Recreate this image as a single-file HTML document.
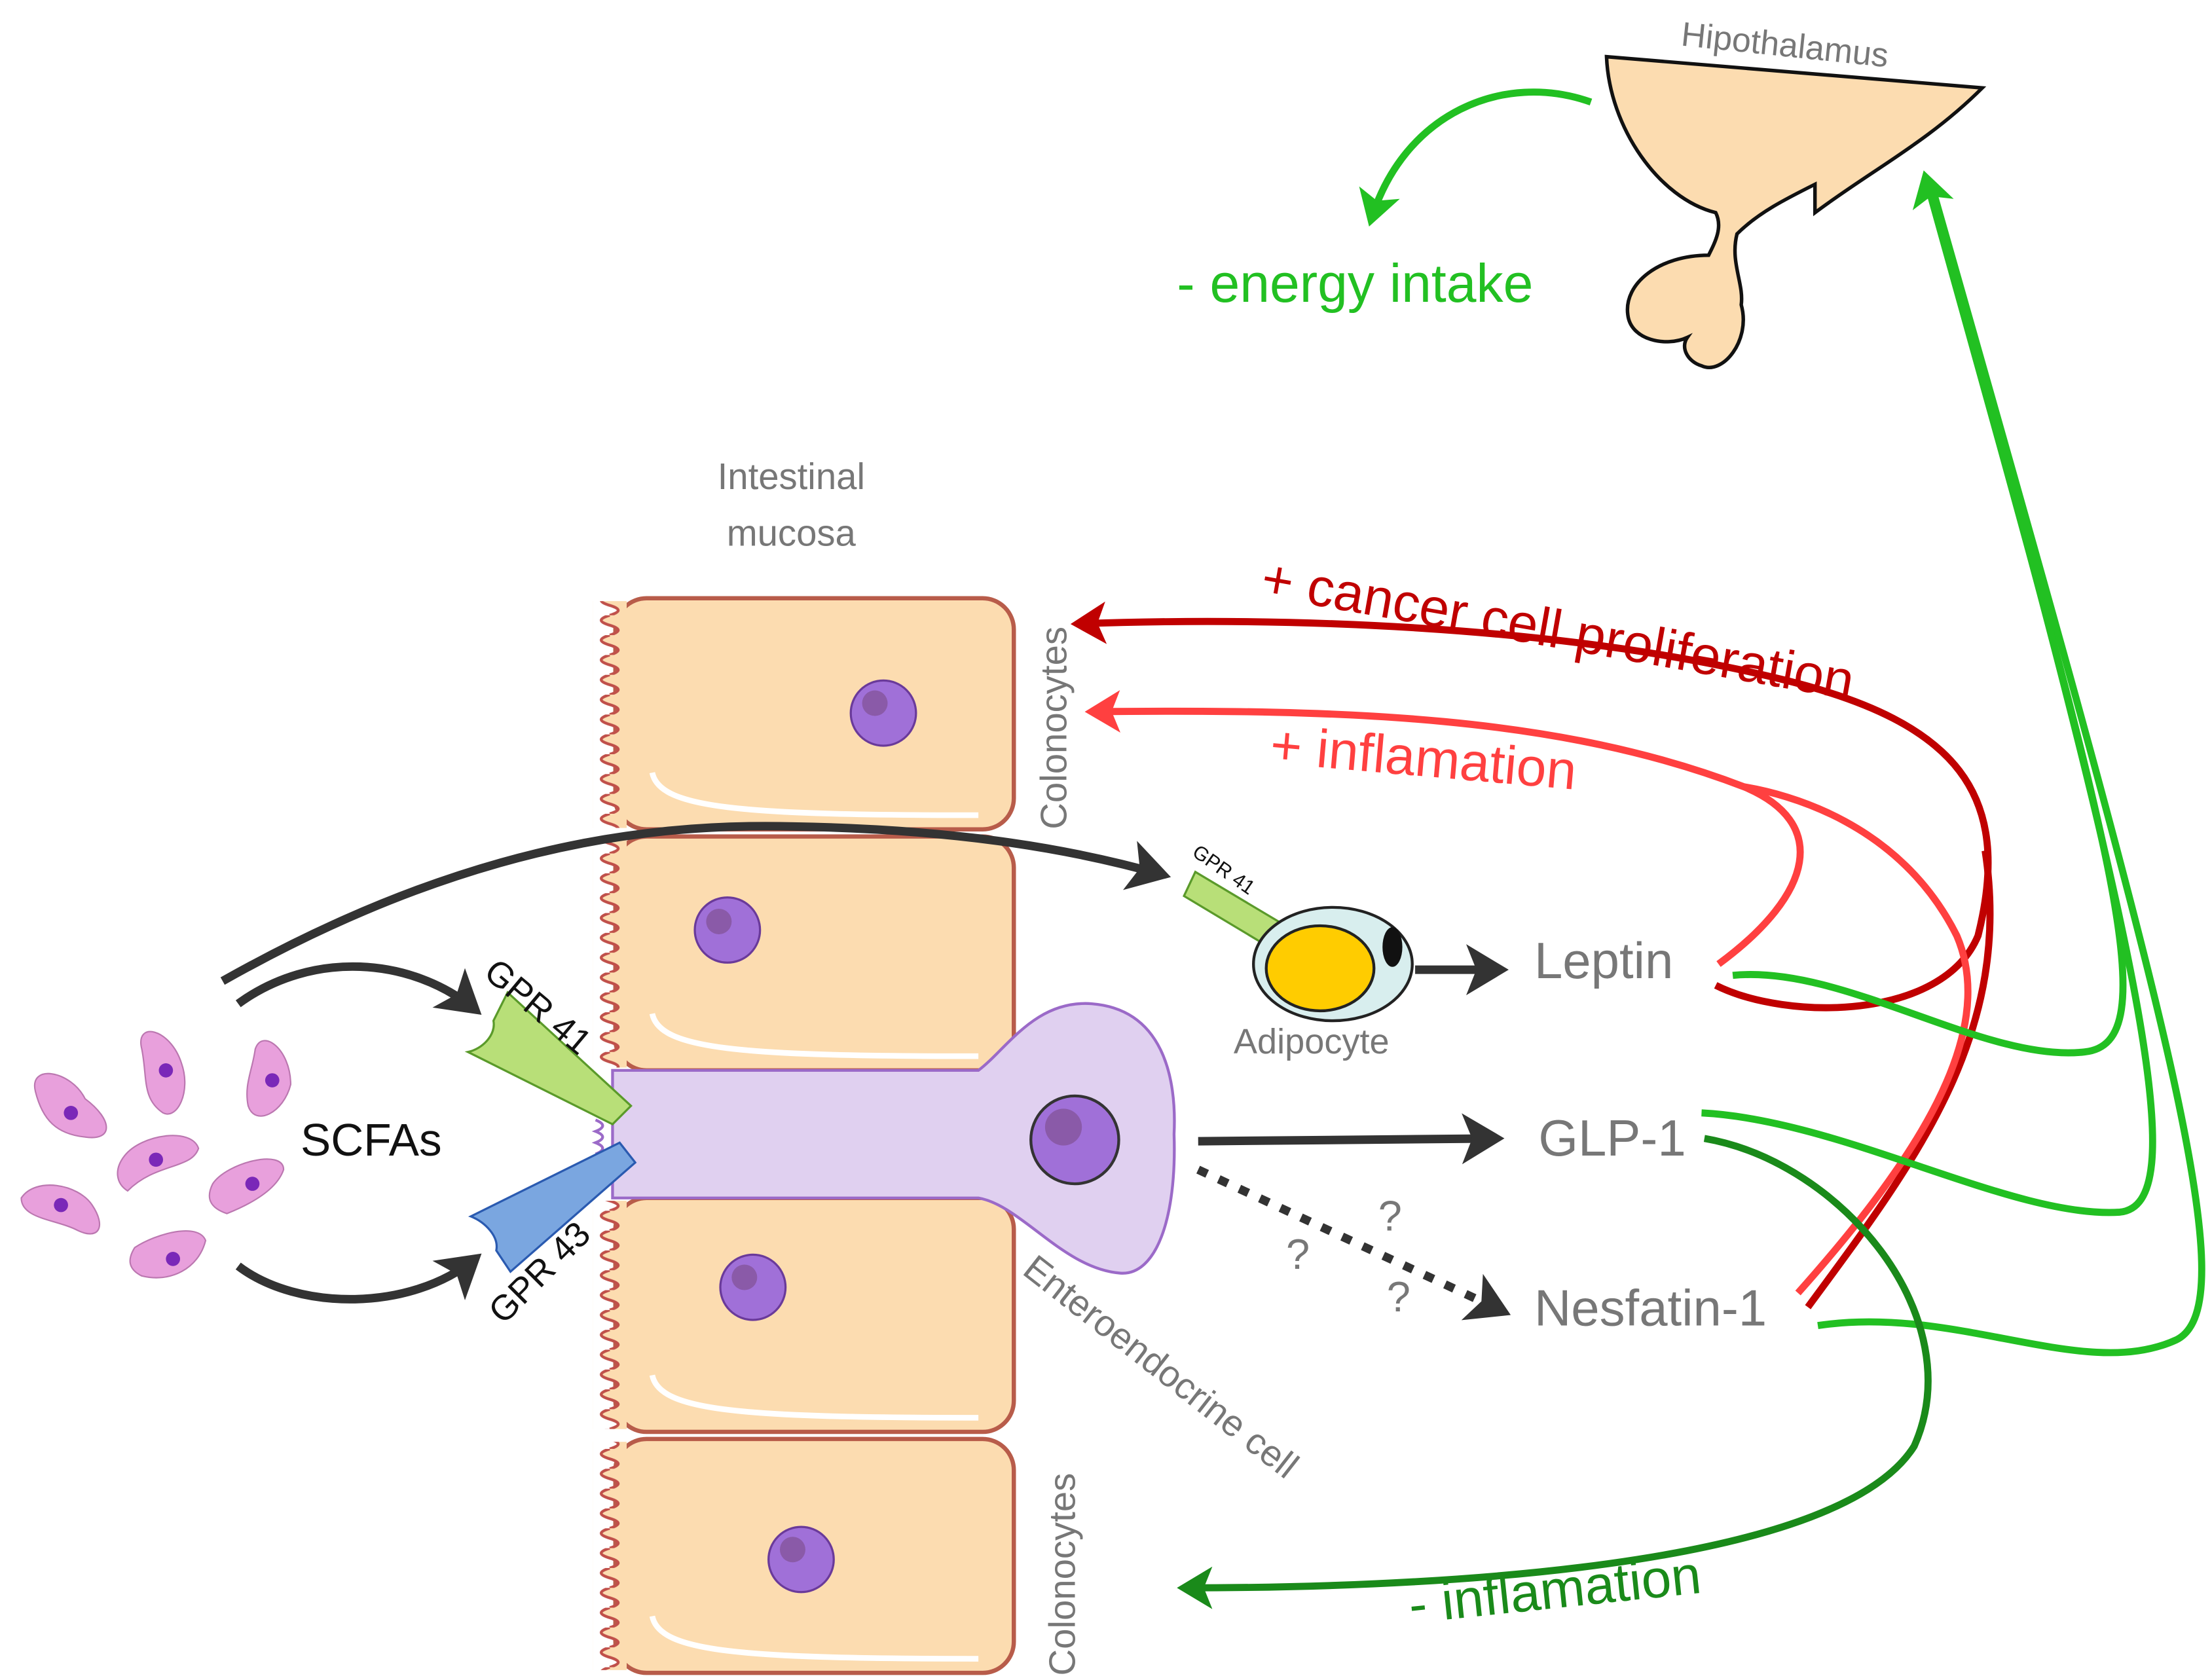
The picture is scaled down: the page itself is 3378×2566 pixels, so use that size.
<!DOCTYPE html>
<html><head><meta charset="utf-8"><style>
html,body{margin:0;padding:0;background:#fff}
svg{display:block}
text{font-family:"Liberation Sans","DejaVu Sans",sans-serif}
</style></head><body>
<svg width="3378" height="2566" viewBox="0 0 1560 1185" preserveAspectRatio="none" xmlns="http://www.w3.org/2000/svg">
<defs>
<pattern id="wave" x="418" y="0" width="24" height="14" patternUnits="userSpaceOnUse">
<path d="M12,0 Q0,3.5 12,7 Q24,10.5 12,14 L24,14 L24,0 Z" fill="#fcdcb0"/>
<path d="M12,0 Q0,3.5 12,7 Q24,10.5 12,14" fill="none" stroke="#c0504a" stroke-width="2"/>
</pattern>
<marker id="ab" markerWidth="6" markerHeight="6" refX="4" refY="3" orient="auto" markerUnits="strokeWidth"><path d="M0,0 L5,3 L0,6 L1.2,3 Z" fill="#333"/></marker>
<marker id="ag" markerWidth="6" markerHeight="6" refX="4" refY="3" orient="auto" markerUnits="strokeWidth"><path d="M0,0 L5,3 L0,6 L1.2,3 Z" fill="#22c022"/></marker>
<marker id="adg" markerWidth="6" markerHeight="6" refX="4" refY="3" orient="auto" markerUnits="strokeWidth"><path d="M0,0 L5,3 L0,6 L1.2,3 Z" fill="#1a8a1a"/></marker>
<marker id="ar" markerWidth="6" markerHeight="6" refX="4" refY="3" orient="auto" markerUnits="strokeWidth"><path d="M0,0 L5,3 L0,6 L1.2,3 Z" fill="#c00000"/></marker>
<marker id="ar2" markerWidth="6" markerHeight="6" refX="4" refY="3" orient="auto" markerUnits="strokeWidth"><path d="M0,0 L5,3 L0,6 L1.2,3 Z" fill="#ff4040"/></marker>
</defs>

<!-- Hypothalamus -->
<path d="M1133,40 L1398,62 C1360,100 1320,120 1280,150 L1280,130 C1260,140 1240,150 1225,165 C1220,185 1230,200 1228,215 C1235,240 1215,265 1200,258 C1190,255 1185,245 1190,238 C1175,245 1150,240 1148,222 C1145,200 1170,180 1205,180 C1210,170 1215,160 1210,150 C1170,140 1135,90 1133,40 Z" fill="#fcdcb0" stroke="#111" stroke-width="2.5"/>
<text x="1185" y="32" font-size="24" fill="#777" transform="rotate(6 1185 32)">Hipothalamus</text>
<path d="M1122,72 C1060,50 990,80 967,155" fill="none" stroke="#22c022" stroke-width="5" marker-end="url(#ag)"/>
<text x="830" y="213" font-size="38" fill="#22c022">- energy intake</text>

<text x="558" y="345" font-size="26" fill="#777" text-anchor="middle">Intestinal</text>
<text x="558" y="385" font-size="26" fill="#777" text-anchor="middle">mucosa</text>

<!-- Colonocytes -->
<g stroke="#b85c4a" stroke-width="3" fill="#fcdcb0">
<rect x="434" y="422" width="281" height="163" rx="22"/>
<rect x="434" y="590" width="281" height="165" rx="22"/>
<rect x="434" y="845" width="281" height="165" rx="22"/>
<rect x="434" y="1015" width="281" height="165" rx="22"/>
</g>
<g fill="none" stroke="#fff" stroke-width="4">
<path d="M460,545 C465,570 520,575 690,575"/><path d="M460,715 C465,740 520,745 690,745"/>
<path d="M460,970 C465,995 520,1000 690,1000"/><path d="M460,1140 C465,1165 520,1170 690,1170"/>
</g>
<rect x="418" y="424" width="24" height="160" fill="url(#wave)"/>
<rect x="418" y="592" width="24" height="161" fill="url(#wave)"/>
<rect x="418" y="847" width="24" height="161" fill="url(#wave)"/>
<rect x="418" y="1017" width="24" height="161" fill="url(#wave)"/>
<g fill="#a070d8" stroke="#6a3a9a" stroke-width="1.5">
<circle cx="623" cy="503" r="23"/><circle cx="513" cy="656" r="23"/>
<circle cx="531" cy="908" r="23"/><circle cx="565" cy="1100" r="23"/>
</g>
<g fill="#8a5aa8"><circle cx="617" cy="496" r="9"/><circle cx="507" cy="650" r="9"/><circle cx="525" cy="901" r="9"/><circle cx="559" cy="1093" r="9"/></g>

<!-- Enteroendocrine cell -->
<path d="M432,755 L690,755 C710,740 730,705 770,708 C820,712 830,760 828,800 C830,860 815,900 790,898 C750,895 720,850 690,845 L432,845 Z" fill="#e0d0f0" stroke="#9b6ac8" stroke-width="2"/>
<path d="M420,790 Q430,794 420,798 Q430,802 420,806 Q430,810 420,814" fill="none" stroke="#9b6ac8" stroke-width="2"/>
<circle cx="758" cy="804" r="31" fill="#a070d8" stroke="#333" stroke-width="2"/>
<circle cx="750" cy="795" r="13" fill="#8a5aa8"/>

<!-- Receptors -->
<path d="M358,700 L445,780 L432,793 L330,742 C340,740 350,730 348,720 Z" fill="#b8df78" stroke="#5a9a2a" stroke-width="1.5"/>
<path d="M448,820 L437,806 L332,858 C342,862 352,872 350,882 L360,897 Z" fill="#7aa6e0" stroke="#2a5ab0" stroke-width="1.5"/>
<text x="340" y="688" font-size="25" fill="#111" transform="rotate(40 340 688)">GPR 41</text>
<text x="355" y="935" font-size="25" fill="#111" transform="rotate(-45 355 935)">GPR 43</text>

<!-- Bacteria -->
<g fill="#e8a0dc" stroke="#bb77b0" stroke-width="1">
<path d="M25,770 C20,750 50,755 60,775 C80,790 80,805 60,802 C40,800 30,790 25,770Z"/>
<path d="M100,740 C95,720 120,725 128,750 C135,770 125,790 115,785 C100,775 104,760 100,740Z"/>
<path d="M180,740 C185,725 205,740 205,765 C200,785 180,795 175,780 C172,765 178,755 180,740Z"/>
<path d="M88,815 C100,800 135,795 140,810 C135,825 110,820 90,840 C82,835 80,825 88,815Z"/>
<path d="M150,835 C160,820 200,810 200,825 C195,840 175,850 160,856 C148,852 145,845 150,835Z"/>
<path d="M15,845 C25,830 55,835 65,850 C75,865 70,875 55,868 C40,860 15,860 15,845Z"/>
<path d="M95,880 C110,870 140,862 145,875 C140,895 120,905 100,900 C90,895 90,888 95,880Z"/>
</g>
<g fill="#7a28b8"><circle cx="50" cy="785" r="5"/><circle cx="117" cy="755" r="5"/><circle cx="192" cy="762" r="5"/><circle cx="110" cy="818" r="5"/><circle cx="178" cy="835" r="5"/><circle cx="43" cy="850" r="5"/><circle cx="122" cy="888" r="5"/></g>
<text x="212" y="815" font-size="32" fill="#111">SCFAs</text>

<!-- Black arrows -->
<g fill="none" stroke="#333" stroke-width="6">
<path d="M157,692 C320,600 450,580 560,583 C680,585 760,600 820,617" marker-end="url(#ab)"/>
<path d="M168,708 C220,670 290,675 335,712" marker-end="url(#ab)"/>
<path d="M168,893 C210,925 290,925 335,888" marker-end="url(#ab)"/>
<path d="M845,805 L1055,803" marker-end="url(#ab)"/>
<path d="M998,684 L1058,684" marker-end="url(#ab)"/>
<path d="M845,825 L1060,925" stroke-dasharray="7,9" marker-end="url(#ab)"/>
</g>
<g font-size="30" fill="#777"><text x="972" y="868">?</text><text x="907" y="895">?</text><text x="978" y="925">?</text></g>

<!-- Adipocyte -->
<path d="M843,615 L835,632 L895,668 L905,652 Z" fill="#b8df78" stroke="#5a9a2a" stroke-width="1.5"/>
<text x="840" y="603" font-size="14" fill="#111" transform="rotate(35 840 603)">GPR 41</text>
<ellipse cx="940" cy="680" rx="56" ry="40" fill="#d8eeee" stroke="#222" stroke-width="2"/>
<ellipse cx="931" cy="683" rx="38" ry="30" fill="#ffcc00" stroke="#222" stroke-width="2"/>
<ellipse cx="982" cy="668" rx="7" ry="14" fill="#111"/>
<text x="870" y="743" font-size="25" fill="#777">Adipocyte</text>

<g font-size="36" fill="#777">
<text x="1082" y="690">Leptin</text>
<text x="1085" y="815">GLP-1</text>
<text x="1082" y="935">Nesfatin-1</text>
</g>

<!-- Red curves -->
<g fill="none" stroke-width="5">
<path d="M1210,695 C1260,720 1370,720 1395,660 C1420,560 1380,510 1260,480 C1100,440 900,435 760,440" stroke="#c00000" marker-end="url(#ar)"/>
<path d="M1275,922 C1350,820 1420,730 1400,600" stroke="#c00000"/>
<path d="M1212,680 C1280,630 1290,580 1230,555 C1100,505 950,500 770,502" stroke="#ff4040" marker-end="url(#ar2)"/>
<path d="M1268,912 C1350,820 1410,730 1380,660 C1340,580 1260,560 1230,555" stroke="#ff4040"/>
</g>
<text x="888" y="420" font-size="38" fill="#c00000" transform="rotate(10 888 420)">+ cancer cell proliferation</text>
<text x="895" y="538" font-size="38" fill="#ff4040" transform="rotate(5 895 538)">+ inflamation</text>

<!-- Green curves -->
<g fill="none" stroke="#22c022" stroke-width="5">
<path d="M1222,688 C1300,680 1400,750 1470,742 C1530,736 1490,600 1358,125" marker-end="url(#ag)"/>
<path d="M1200,785 C1300,790 1420,860 1495,855 C1545,850 1520,700 1360,130"/>
<path d="M1282,935 C1380,920 1470,975 1535,945 C1585,920 1530,720 1362,130"/>
</g>
<path d="M1202,803 C1300,820 1390,930 1350,1020 C1300,1100 1050,1120 835,1120" fill="none" stroke="#1a8a1a" stroke-width="5" marker-end="url(#adg)"/>
<text x="995" y="1145" font-size="38" fill="#1a8a1a" transform="rotate(-6 995 1145)">- inflamation</text>

<text x="752" y="585" font-size="26" fill="#777" transform="rotate(-90 752 585)">Colonocytes</text>
<text x="758" y="1182" font-size="26" fill="#777" transform="rotate(-90 758 1182)">Colonocytes</text>
<text x="720" y="898" font-size="26" fill="#777" transform="rotate(38 720 898)">Enteroendocrine cell</text>
</svg>
</body></html>
